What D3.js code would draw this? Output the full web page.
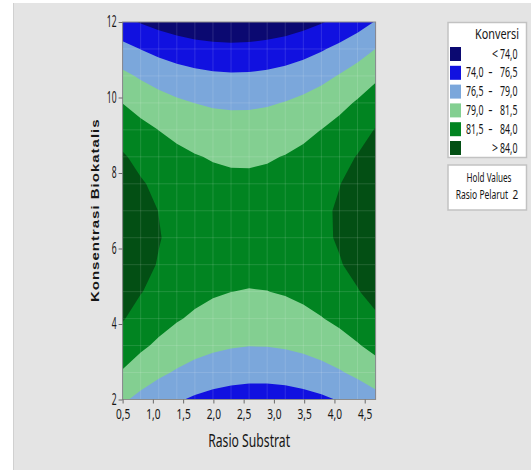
<!DOCTYPE html>
<html>
<head>
<meta charset="utf-8">
<script src="https://cdn.jsdelivr.net/npm/d3@7"></script>
<style>
  body { margin: 0; background: #ffffff; }
  svg { display: block; }
  text { font-family: "Noto Sans", "Open Sans", sans-serif; fill: #161616; }
</style>
</head>
<body>
<svg id="chart" width="531" height="470"></svg>
<script>
// Konversi bands: boundaries and fill colours (lowest band first)
const levels = [74.0, 76.5, 79.0, 81.5, 84.0];
const bandColors = ["#0b0971", "#1111e0", "#7ba7db", "#83cf91", "#018421", "#034f14"];

// Axis ticks
const xTicks = [0.5, 1.0, 1.5, 2.0, 2.5, 3.0, 3.5, 4.0, 4.5];
const yTicks = [2, 4, 6, 8, 10, 12];

// Ranges of the two factors and the held factor
const rasioSubstratRange = [0.5, 4.68];
const konsentrasiRange = [2, 12];
const holdName = "Rasio Pelarut";
const holdValue = 2;

// Predicted Konversi on a 15 x 15 mesh.
// Rows: Konsentrasi Biokatalis from 2 (first row) up to 12 (last row).
// Columns: Rasio Substrat from 0,5 to 4,68.
const konversi = [
  [79.35, 78.34, 77.47, 76.75, 76.17, 75.73, 75.43, 75.28, 75.27, 75.40, 75.67, 76.09, 76.65, 77.35, 78.19],
  [81.30, 80.31, 79.46, 78.75, 78.18, 77.76, 77.48, 77.34, 77.35, 77.49, 77.78, 78.21, 78.79, 79.51, 80.37],
  [82.90, 81.92, 81.09, 80.40, 79.85, 79.44, 79.18, 79.05, 79.07, 79.24, 79.54, 79.99, 80.58, 81.32, 82.19],
  [84.15, 83.19, 82.37, 81.69, 81.16, 80.77, 80.52, 80.41, 80.45, 80.63, 80.95, 81.41, 82.02, 82.77, 83.67],
  [85.04, 84.10, 83.30, 82.63, 82.12, 81.74, 81.51, 81.42, 81.47, 81.67, 82.01, 82.49, 83.11, 83.87, 84.78],
  [85.59, 84.66, 83.87, 83.23, 82.72, 82.36, 82.15, 82.07, 82.14, 82.36, 82.71, 83.20, 83.85, 84.63, 85.55],
  [85.78, 84.86, 84.10, 83.47, 82.98, 82.64, 82.44, 82.38, 82.46, 82.69, 83.06, 83.57, 84.23, 85.03, 85.97],
  [85.62, 84.72, 83.97, 83.35, 82.88, 82.56, 82.37, 82.33, 82.43, 82.67, 83.06, 83.59, 84.26, 85.07, 86.03],
  [85.11, 84.22, 83.49, 82.89, 82.44, 82.12, 81.96, 81.93, 82.05, 82.31, 82.71, 83.25, 83.94, 84.77, 85.74],
  [84.24, 83.37, 82.65, 82.07, 81.63, 81.34, 81.19, 81.18, 81.31, 81.58, 82.00, 82.56, 83.27, 84.11, 85.10],
  [83.02, 82.17, 81.47, 80.90, 80.48, 80.20, 80.07, 80.07, 80.22, 80.51, 80.95, 81.52, 82.24, 83.10, 84.11],
  [81.46, 80.62, 79.93, 79.38, 78.98, 78.71, 78.59, 78.62, 78.78, 79.09, 79.54, 80.13, 80.87, 81.74, 82.76],
  [79.54, 78.72, 78.04, 77.51, 77.12, 76.87, 76.77, 76.81, 76.99, 77.31, 77.78, 78.39, 79.14, 80.03, 81.07],
  [77.26, 76.46, 75.80, 75.28, 74.91, 74.68, 74.59, 74.64, 74.84, 75.18, 75.66, 76.29, 77.06, 77.96, 79.02],
  [74.64, 73.85, 73.21, 72.71, 72.35, 72.14, 72.06, 72.13, 72.35, 72.70, 73.20, 73.84, 74.62, 75.55, 76.62]
];

const svg = d3.select("#chart");
const W = 531, H = 470;

// Page background and left rule
svg.append("rect").attr("width", W).attr("height", H).attr("fill", "#ffffff");
svg.append("rect").attr("x", 14).attr("y", 3).attr("width", W - 14).attr("height", H - 3).attr("fill", "#e4e4e4");
svg.append("line").attr("x1", 13.5).attr("x2", 13.5).attr("y1", 3).attr("y2", H)
  .attr("stroke", "#d0d0d0").attr("stroke-width", 1);

// Plot area
const plot = { left: 122.6, right: 375.6, top: 22, bottom: 399.5 };
const x = d3.scaleLinear().domain(rasioSubstratRange).range([plot.left, plot.right]);
const y = d3.scaleLinear().domain(konsentrasiRange).range([plot.bottom, plot.top]);

const fmt1 = v => d3.format(".1f")(v).replace(".", ",");

// Text helper: condensed lettering, either a fixed horizontal scale (sx)
// or a scale that fits the text to a given width
function addText(parent, str, o) {
  const g = parent.append("g");
  const t = g.append("text")
    .attr("text-anchor", o.anchor || "start")
    .attr("font-size", o.size)
    .text(str);
  if (o.weight) t.attr("font-weight", o.weight);
  if (o.family) t.style("font-family", o.family);
  if (o.spacing) t.attr("letter-spacing", o.spacing);
  let sx = o.sx || 1;
  if (o.width) sx = o.width / t.node().getComputedTextLength();
  g.attr("transform", `translate(${o.x},${o.y}) scale(${sx},1)` + (o.rotate ? ` rotate(${o.rotate})` : ""));
  return t;
}

// Contour bands
const nx = konversi[0].length, ny = konversi.length;
const flat = konversi.flat();
const thresholds = [d3.min(flat) - 1, ...levels];
const bands = d3.contours().size([nx, ny]).thresholds(thresholds)(flat);

const stepX = (rasioSubstratRange[1] - rasioSubstratRange[0]) / (nx - 1);
const stepY = (konsentrasiRange[1] - konsentrasiRange[0]) / (ny - 1);
const gridToX = g => rasioSubstratRange[0] + (g - 0.5) * stepX;
const gridToY = g => konsentrasiRange[0] + (g - 0.5) * stepY;
const toScreen = d3.geoTransform({
  point(px, py) { this.stream.point(x(gridToX(px)), y(gridToY(py))); }
});
const path = d3.geoPath(toScreen);

svg.append("clipPath").attr("id", "plotClip")
  .append("rect")
  .attr("x", plot.left).attr("y", plot.top)
  .attr("width", plot.right - plot.left).attr("height", plot.bottom - plot.top);

const bandLayer = svg.append("g").attr("clip-path", "url(#plotClip)");
bandLayer.selectAll("path.band")
  .data(bands)
  .join("path")
  .attr("class", "band")
  .attr("d", path)
  .attr("fill", (d, i) => bandColors[i])
  .attr("stroke", "none");

// Faint mesh seams
const meshX = d3.range(1, nx - 1).map(i => rasioSubstratRange[0] + i * stepX);
const meshY = d3.range(1, ny - 1).map(j => konsentrasiRange[0] + j * stepY);
bandLayer.selectAll("line.mx").data(meshX).join("line")
  .attr("x1", d => x(d)).attr("x2", d => x(d))
  .attr("y1", plot.top).attr("y2", plot.bottom)
  .attr("stroke", "#ffffff").attr("stroke-opacity", 0.13).attr("stroke-width", 1);
bandLayer.selectAll("line.my").data(meshY).join("line")
  .attr("y1", d => y(d)).attr("y2", d => y(d))
  .attr("x1", plot.left).attr("x2", plot.right)
  .attr("stroke", "#ffffff").attr("stroke-opacity", 0.13).attr("stroke-width", 1);

// Frame
svg.append("rect")
  .attr("x", plot.left).attr("y", plot.top)
  .attr("width", plot.right - plot.left).attr("height", plot.bottom - plot.top)
  .attr("fill", "none").attr("stroke", "#8c8c8c").attr("stroke-width", 1);

// X axis
const xAxis = svg.append("g").attr("transform", `translate(0,${plot.bottom})`)
  .call(d3.axisBottom(x).tickValues(xTicks).tickFormat(fmt1).tickSize(4).tickPadding(5).tickSizeOuter(0));
xAxis.select(".domain").remove();
xAxis.selectAll(".tick line").attr("stroke", "#6a6a6a");
xAxis.selectAll(".tick text")
  .attr("font-size", 14.5).attr("font-family", null)
  .attr("transform", "scale(0.7,1)")
  .style("fill", "#161616");

// Y axis
const ySx = 0.55;
const yAxis = svg.append("g").attr("transform", `translate(${plot.left},0)`)
  .call(d3.axisLeft(y).tickValues(yTicks).tickFormat(d3.format("d")).tickSize(4).tickPadding(2).tickSizeOuter(0));
yAxis.select(".domain").remove();
yAxis.selectAll(".tick line").attr("stroke", "#6a6a6a");
yAxis.selectAll(".tick text")
  .attr("font-size", 15.5).attr("font-family", null)
  .attr("x", -6 / ySx)
  .attr("transform", `scale(${ySx},1)`)
  .style("fill", "#161616");

// Axis titles
addText(svg, "Rasio Substrat", { x: (plot.left + plot.right) / 2, y: 446.5, size: 18, anchor: "middle", width: 82 });
addText(svg, "Konsentrasi Biokatalis", {
  x: 98.5, y: (plot.top + plot.bottom) / 2 - 0.5, size: 15, anchor: "middle",
  sx: 0.75, rotate: -90, weight: "bold", family: "'Liberation Sans', Arial, sans-serif", spacing: 1
});

// Legend
const legend = svg.append("g");
legend.append("rect").attr("x", 448).attr("y", 22.5).attr("width", 78.5).attr("height", 135)
  .attr("fill", "#ffffff").attr("stroke", "#c2c2c2").attr("stroke-width", 1.5);
addText(legend, "Konversi", { x: 497, y: 39, size: 14, anchor: "middle", width: 44 });

const rows = bandColors.map((c, i) => ({
  color: c,
  lo: i === 0 ? null : levels[i - 1],
  hi: i === levels.length ? null : levels[i]
}));
rows.forEach((r, i) => {
  const top = 47 + i * 18.8;
  legend.append("rect").attr("x", 450).attr("y", top).attr("width", 11).attr("height", 14).attr("fill", r.color);
  const base = top + 11.5;
  if (r.lo === null) {
    addText(legend, "<", { x: 495, y: base, size: 14, anchor: "middle", sx: 0.75 });
    addText(legend, fmt1(r.hi), { x: 517.5, y: base, size: 14, anchor: "end", width: 17.5 });
  } else if (r.hi === null) {
    addText(legend, ">", { x: 495, y: base, size: 14, anchor: "middle", sx: 0.75 });
    addText(legend, fmt1(r.lo), { x: 517.5, y: base, size: 14, anchor: "end", width: 17.5 });
  } else {
    addText(legend, fmt1(r.lo), { x: 466, y: base, size: 14, anchor: "start", width: 17.5 });
    addText(legend, "–", { x: 490.5, y: base, size: 14, anchor: "middle", sx: 0.55 });
    addText(legend, fmt1(r.hi), { x: 517.5, y: base, size: 14, anchor: "end", width: 17.5 });
  }
});

// Held factor box
const hold = svg.append("g");
hold.append("rect").attr("x", 448).attr("y", 165).attr("width", 78.5).attr("height", 45)
  .attr("fill", "#ffffff").attr("stroke", "#c2c2c2").attr("stroke-width", 1.5);
addText(hold, "Hold Values", { x: 489, y: 181.5, size: 12.5, anchor: "middle", width: 45 });
addText(hold, holdName, { x: 455.7, y: 199, size: 12.5, anchor: "start", width: 52.5 });
addText(hold, String(holdValue), { x: 518.3, y: 199, size: 12.5, anchor: "end", sx: 0.8 });
</script>
</body>
</html>
